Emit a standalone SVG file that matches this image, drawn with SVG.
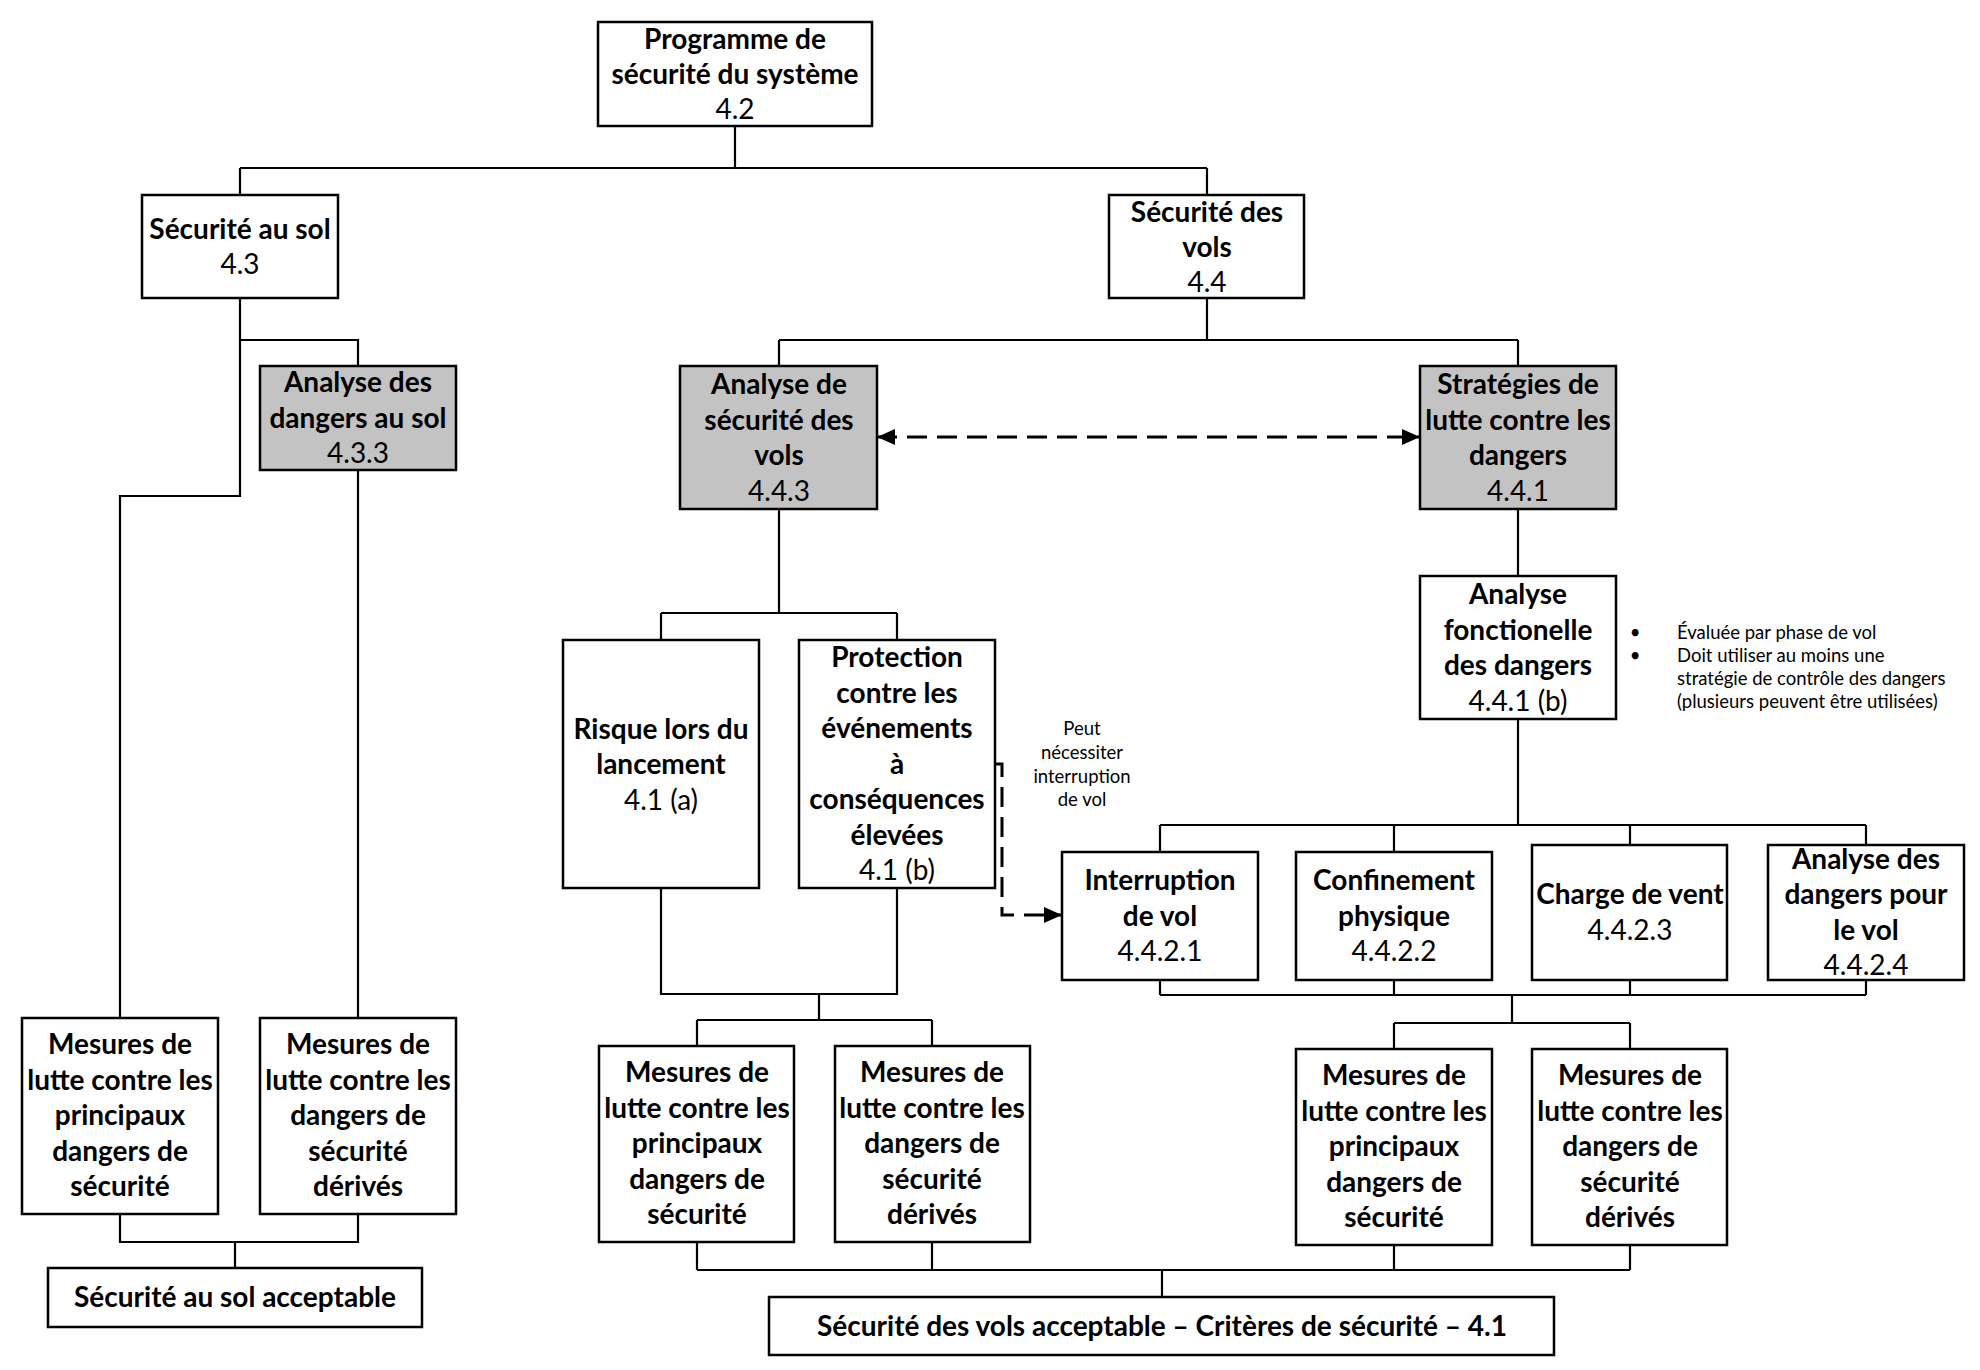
<svg xmlns="http://www.w3.org/2000/svg" width="1980" height="1370" viewBox="0 0 1980 1370">
<style>
.box{fill:#fff;stroke:#000;stroke-width:2.5}
.gray{fill:#c3c3c3}
.t{font-family:Lato,"Liberation Sans",sans-serif;font-size:28px;font-weight:bold;text-anchor:middle;fill:#000}
.n{font-weight:normal}
.s{font-family:Lato,"Liberation Sans",sans-serif;font-size:18.5px;fill:#000}
.c{fill:none;stroke:#000;stroke-width:2.2}
.d{fill:none;stroke:#000;stroke-width:3;stroke-dasharray:20 10}
</style>
<defs>
<marker id="ah" markerUnits="userSpaceOnUse" markerWidth="18" markerHeight="16" refX="18" refY="8" orient="auto-start-reverse" viewBox="0 0 18 16">
<path d="M0,0 L18,8 L0,16 Z" fill="#000"/>
</marker>
</defs>
<rect width="1980" height="1370" fill="#fff"/>
<g id="connectors">
<path class="c" d="M735,126 V168 M240,168 H1207 M240,168 V195 M1207,168 V195"/>
<path class="c" d="M240,298 V496 H120 V1018 M240,340 H358 V366 M358,470 V1018"/>
<path class="c" d="M120,1214 V1242 H358 V1214 M235,1242 V1268"/>
<path class="c" d="M1207,298 V340 M779,340 H1518 M779,340 V366 M1518,340 V366"/>
<path class="c" d="M779,509 V613 M661,613 H897 M661,613 V640 M897,613 V640"/>
<path class="c" d="M661,888 V994 H897 V888 M819,994 V1020 M697,1020 H932 M697,1020 V1046 M932,1020 V1046"/>
<path class="c" d="M697,1242 V1270 M932,1242 V1270 M697,1270 H1630 M1394,1245 V1270 M1630,1245 V1270 M1162,1270 V1297"/>
<path class="c" d="M1518,509 V576 M1518,719 V825 M1160,825 H1866 M1160,825 V852 M1394,825 V852 M1630,825 V845 M1866,825 V845"/>
<path class="c" d="M1160,980 V995 M1394,980 V995 M1630,980 V995 M1866,980 V995 M1160,995 H1866 M1512,995 V1023 M1394,1023 H1630 M1394,1023 V1049 M1630,1023 V1049"/>
<path class="d" d="M877,437 H1420" marker-start="url(#ah)" marker-end="url(#ah)"/>
<path class="d" d="M995,764 H1002 V915 H1062" marker-end="url(#ah)"/>
</g>
<g id="n-programme">
<rect class="box" x="598" y="22" width="274" height="104"/>
<text class="t" x="735" y="49">Programme de</text>
<text class="t" x="735" y="84">sécurité du système</text>
<text class="t n" x="735" y="119">4.2</text>
</g>
<g id="n-sol">
<rect class="box" x="142" y="195" width="196" height="103"/>
<text class="t" x="240" y="239">Sécurité au sol</text>
<text class="t n" x="240" y="274">4.3</text>
</g>
<g id="n-vols">
<rect class="box" x="1109" y="195" width="195" height="103"/>
<text class="t" x="1207" y="222">Sécurité des</text>
<text class="t" x="1207" y="257">vols</text>
<text class="t n" x="1207" y="292">4.4</text>
</g>
<g id="n-ads">
<rect class="box gray" x="260" y="366" width="196" height="104"/>
<text class="t" x="358" y="392">Analyse des</text>
<text class="t" x="358" y="428">dangers au sol</text>
<text class="t n" x="358" y="463">4.3.3</text>
</g>
<g id="n-asv">
<rect class="box gray" x="680" y="366" width="197" height="143"/>
<text class="t" x="779" y="394">Analyse de</text>
<text class="t" x="779" y="430">sécurité des</text>
<text class="t" x="779" y="465">vols</text>
<text class="t n" x="779" y="501">4.4.3</text>
</g>
<g id="n-strat">
<rect class="box gray" x="1420" y="366" width="196" height="143"/>
<text class="t" x="1518" y="394">Stratégies de</text>
<text class="t" x="1518" y="430">lutte contre les</text>
<text class="t" x="1518" y="465">dangers</text>
<text class="t n" x="1518" y="501">4.4.1</text>
</g>
<g id="n-afd">
<rect class="box" x="1420" y="576" width="196" height="143"/>
<text class="t" x="1518" y="604">Analyse</text>
<text class="t" x="1518" y="640">fonctionelle</text>
<text class="t" x="1518" y="675">des dangers</text>
<text class="t n" x="1518" y="711">4.4.1 (b)</text>
</g>
<g id="n-notes">
<text class="s" x="1635" y="639" text-anchor="middle">•</text>
<text class="s" x="1635" y="662" text-anchor="middle">•</text>
<text class="s" x="1677" y="639">Évaluée par phase de vol</text>
<text class="s" x="1677" y="662">Doit utiliser au moins une</text>
<text class="s" x="1677" y="685">stratégie de contrôle des dangers</text>
<text class="s" x="1677" y="708">(plusieurs peuvent être utilisées)</text>
</g>
<g id="n-risque">
<rect class="box" x="563" y="640" width="196" height="248"/>
<text class="t" x="661" y="739">Risque lors du</text>
<text class="t" x="661" y="774">lancement</text>
<text class="t n" x="661" y="810">4.1 (a)</text>
</g>
<g id="n-protection">
<rect class="box" x="799" y="640" width="196" height="248"/>
<text class="t" x="897" y="667">Protection</text>
<text class="t" x="897" y="703">contre les</text>
<text class="t" x="897" y="738">événements</text>
<text class="t" x="897" y="774">à</text>
<text class="t" x="897" y="809">conséquences</text>
<text class="t" x="897" y="845">élevées</text>
<text class="t n" x="897" y="880">4.1 (b)</text>
</g>
<g id="n-peut">
<text class="s" x="1082" y="735" text-anchor="middle">Peut</text>
<text class="s" x="1082" y="759" text-anchor="middle">nécessiter</text>
<text class="s" x="1082" y="783" text-anchor="middle">interruption</text>
<text class="s" x="1082" y="806" text-anchor="middle">de vol</text>
</g>
<g id="n-interruption">
<rect class="box" x="1062" y="852" width="196" height="128"/>
<text class="t" x="1160" y="890">Interruption</text>
<text class="t" x="1160" y="926">de vol</text>
<text class="t n" x="1160" y="961">4.4.2.1</text>
</g>
<g id="n-confinement">
<rect class="box" x="1296" y="852" width="196" height="128"/>
<text class="t" x="1394" y="890">Confinement</text>
<text class="t" x="1394" y="926">physique</text>
<text class="t n" x="1394" y="961">4.4.2.2</text>
</g>
<g id="n-charge">
<rect class="box" x="1532" y="845" width="195" height="135"/>
<text class="t" x="1630" y="904">Charge de vent</text>
<text class="t n" x="1630" y="940">4.4.2.3</text>
</g>
<g id="n-adv">
<rect class="box" x="1768" y="845" width="196" height="135"/>
<text class="t" x="1866" y="869">Analyse des</text>
<text class="t" x="1866" y="904">dangers pour</text>
<text class="t" x="1866" y="940">le vol</text>
<text class="t n" x="1866" y="975">4.4.2.4</text>
</g>
<g id="n-sol-principaux">
<rect class="box" x="22" y="1018" width="196" height="196"/>
<text class="t" x="120" y="1054">Mesures de</text>
<text class="t" x="120" y="1090">lutte contre les</text>
<text class="t" x="120" y="1125">principaux</text>
<text class="t" x="120" y="1161">dangers de</text>
<text class="t" x="120" y="1196">sécurité</text>
</g>
<g id="n-sol-derives">
<rect class="box" x="260" y="1018" width="196" height="196"/>
<text class="t" x="358" y="1054">Mesures de</text>
<text class="t" x="358" y="1090">lutte contre les</text>
<text class="t" x="358" y="1125">dangers de</text>
<text class="t" x="358" y="1161">sécurité</text>
<text class="t" x="358" y="1196">dérivés</text>
</g>
<g id="n-sol-acceptable">
<rect class="box" x="48" y="1268" width="374" height="59"/>
<text class="t" x="235" y="1307">Sécurité au sol acceptable</text>
</g>
<g id="n-mid-principaux">
<rect class="box" x="599" y="1046" width="195" height="196"/>
<text class="t" x="697" y="1082">Mesures de</text>
<text class="t" x="697" y="1118">lutte contre les</text>
<text class="t" x="697" y="1153">principaux</text>
<text class="t" x="697" y="1189">dangers de</text>
<text class="t" x="697" y="1224">sécurité</text>
</g>
<g id="n-mid-derives">
<rect class="box" x="835" y="1046" width="195" height="196"/>
<text class="t" x="932" y="1082">Mesures de</text>
<text class="t" x="932" y="1118">lutte contre les</text>
<text class="t" x="932" y="1153">dangers de</text>
<text class="t" x="932" y="1189">sécurité</text>
<text class="t" x="932" y="1224">dérivés</text>
</g>
<g id="n-right-principaux">
<rect class="box" x="1296" y="1049" width="196" height="196"/>
<text class="t" x="1394" y="1085">Mesures de</text>
<text class="t" x="1394" y="1121">lutte contre les</text>
<text class="t" x="1394" y="1156">principaux</text>
<text class="t" x="1394" y="1192">dangers de</text>
<text class="t" x="1394" y="1227">sécurité</text>
</g>
<g id="n-right-derives">
<rect class="box" x="1532" y="1049" width="195" height="196"/>
<text class="t" x="1630" y="1085">Mesures de</text>
<text class="t" x="1630" y="1121">lutte contre les</text>
<text class="t" x="1630" y="1156">dangers de</text>
<text class="t" x="1630" y="1192">sécurité</text>
<text class="t" x="1630" y="1227">dérivés</text>
</g>
<g id="n-vols-acceptable">
<rect class="box" x="769" y="1297" width="785" height="58"/>
<text class="t" x="1162" y="1336">Sécurité des vols acceptable – Critères de sécurité – 4.1</text>
</g>
</svg>
